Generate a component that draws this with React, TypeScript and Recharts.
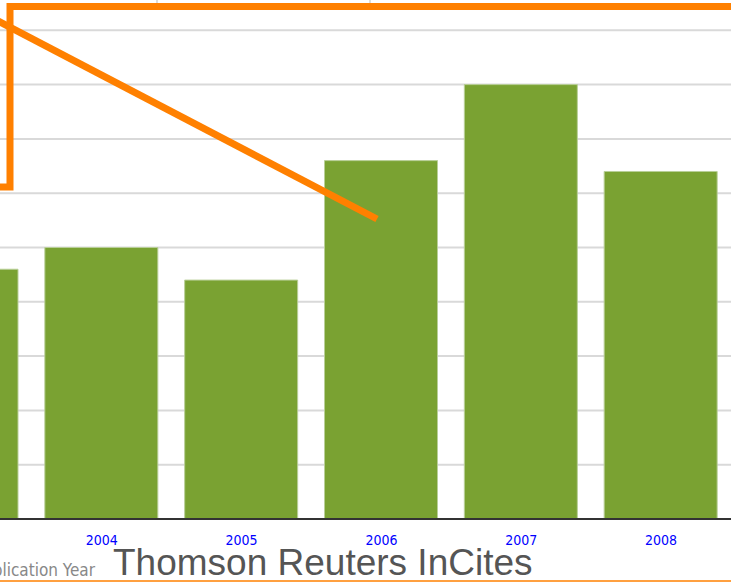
import { BarChart, Bar, XAxis, YAxis, CartesianGrid } from 'recharts';

// publication years and values
const years = ['2003', '2004', '2005', '2006', '2007', '2008'];
const values = [46, 50, 44, 66, 80, 64];
const yTicks = [0, 10, 20, 30, 40, 50, 60, 70, 80, 90, 100];

const data = years.map((y, i) => ({ year: y, value: values[i] }));

const orange = '#ff8000';

const App = () => {
  return (
    <div style={{ position: 'fixed', left: 0, top: 0, width: 731, height: 583, overflow: 'hidden', background: '#fff' }}>
      <div style={{ position: 'absolute', left: -108, top: -24 }}>
        <BarChart width={839} height={607} data={data} margin={{ top: 0, right: 0, bottom: 0, left: 0 }} barSize={113}>
          <CartesianGrid vertical={false} stroke="#d9d9d9" strokeWidth={2} />
          <YAxis hide domain={[0, 100]} ticks={yTicks} />
          <XAxis
            dataKey="year"
            height={64}
            tickLine={false}
            tickMargin={10}
            axisLine={{ stroke: '#333', strokeWidth: 2 }}
            tick={{ fill: '#0000ff', fontSize: 14, fontFamily: 'DejaVu Sans Condensed, DejaVu Sans' }}
          />
          <Bar dataKey="value" fill="#7aa232" stroke="#b9cf98" strokeWidth={1} isAnimationActive={false} />
        </BarChart>
      </div>
      {/* annotations drawn over the screenshot */}
      <svg width={731} height={583} style={{ position: 'absolute', left: 0, top: 0 }}>
        <line x1={157} y1={0} x2={157} y2={3} stroke="#ddd" strokeWidth={2} />
        <line x1={370} y1={0} x2={370} y2={3} stroke="#ddd" strokeWidth={2} />
        <polyline points="0,187 10,187 10,6.5 731,6.5" fill="none" stroke={orange} strokeWidth={7} />
        <line x1={-2} y1={21} x2={377} y2={219} stroke={orange} strokeWidth={7} />
        <line x1={0} y1={581} x2={731} y2={581} stroke={orange} strokeWidth={1.5} />
        <text x={95} y={576} textAnchor="end" fill="#888" fontSize={17} fontFamily="DejaVu Sans Condensed, DejaVu Sans">Publication Year</text>
        <text x={113} y={575} fill="#555" fontSize={37} fontFamily="Liberation Sans, Arial">Thomson Reuters InCites</text>
      </svg>
    </div>
  );
};

export default App;
